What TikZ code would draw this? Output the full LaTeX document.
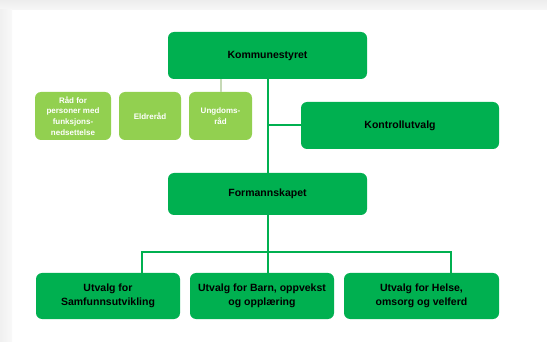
\documentclass[tikz,border=0pt]{standalone}
\usepackage{fontspec}
\setmainfont{Liberation Sans}
\usepackage{tikz}
\usepackage{xcolor}

\definecolor{darkgreen}{HTML}{00B050}
\definecolor{lightgreen}{HTML}{92D050}
\definecolor{paleline}{HTML}{C6D9B6}

\begin{document}
\begin{tikzpicture}[x=1pt, y=-1pt,
  darkbox/.style={rectangle, rounded corners=6pt, fill=darkgreen, text=black, font=\bfseries\fontsize{10.5}{13.5}\selectfont, align=center, inner sep=0pt},
  lightbox/.style={rectangle, rounded corners=6pt, fill=lightgreen, text=white, font=\bfseries\fontsize{8}{10.8}\selectfont, align=center, inner sep=0pt, minimum height=48pt},
  mainline/.style={draw=darkgreen, line width=2pt},
  paleconn/.style={draw=paleline, line width=2pt}]
\useasboundingbox (0,0) rectangle (547,342);
\fill[white] (0,0) rectangle (547,342);
\shade[top color=gray!14, bottom color=gray!6] (0,0) rectangle (547,10);
\shade[left color=gray!12, right color=gray!5] (0,10) rectangle (12,342);

\node[darkbox, minimum width=199pt, minimum height=47pt] (kommune) at (267.5,55.5) {Kommunestyret};
\node[lightbox, minimum width=76pt] (raad) at (73,116) {Råd for\\personer med\\funksjons-\\nedsettelse};
\node[lightbox, minimum width=62pt] (eldre) at (150,116) {Eldreråd};
\node[lightbox, minimum width=63pt] (ungdom) at (220.5,116) {Ungdoms-\\råd};
\node[darkbox, minimum width=198pt, minimum height=47pt] (kontroll) at (400,125.5) {Kontrollutvalg};
\node[darkbox, minimum width=199pt, minimum height=42pt] (formann) at (267.5,194) {Formannskapet};
\node[darkbox, minimum width=144pt, minimum height=46pt] (samf) at (108,296) {Utvalg for\\Samfunnsutvikling};
\node[darkbox, minimum width=144pt, minimum height=46pt] (barn) at (262,296) {Utvalg for Barn, oppvekst\\og opplæring};
\node[darkbox, minimum width=155pt, minimum height=46pt] (helse) at (421.5,296) {Utvalg for Helse,\\omsorg og velferd};

\coordinate (bus) at (267.5,252);
\coordinate (busl) at (142,252);
\coordinate (busr) at (451,252);

\draw[paleconn] (ungdom.north |- kommune.south) -- (ungdom.north);
\draw[mainline] (kommune.south) -- (formann.north);
\draw[mainline] (kommune.south |- kontroll.west) -- (kontroll.west);
\draw[mainline] (formann.south) -- (bus);
\draw[mainline] (busl |- samf.north) -- (busl) -- (busr) -- (busr |- helse.north);
\draw[mainline] (bus) -- (bus |- barn.north);
\end{tikzpicture}
\end{document}
